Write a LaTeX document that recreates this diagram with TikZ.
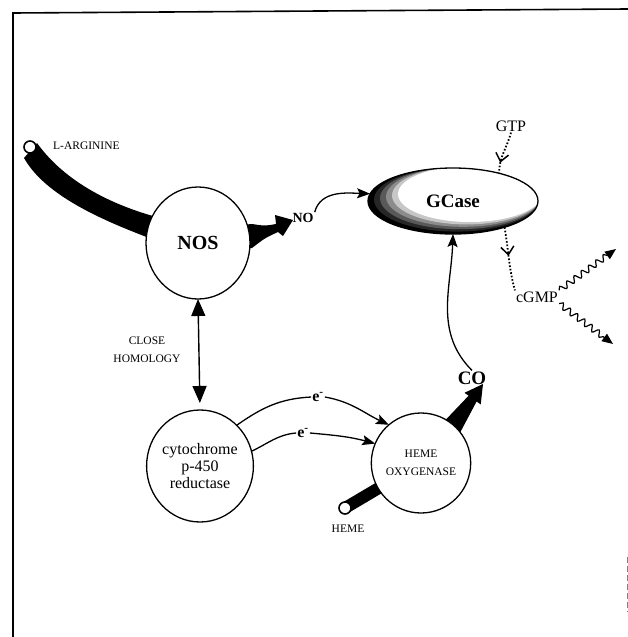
\documentclass[tikz,border=0pt]{standalone}
\usepackage{fontspec}
\setmainfont{Liberation Serif}
\usetikzlibrary{shapes.geometric,arrows.meta,backgrounds,decorations.pathmorphing,decorations.markings}

\begin{document}
\begin{tikzpicture}[x=1pt,y=1pt,
	enzyme/.style={ellipse, draw, line width=1.3pt, fill=white, inner sep=0pt, outer sep=0pt, align=center},
	substrate/.style={circle, draw, line width=1.6pt, fill=white, minimum size=12pt, inner sep=0pt},
	smallcaps/.style={font=\fontsize{11.5}{18}\selectfont, align=center, inner sep=1pt},
	molecule/.style={inner sep=1pt},
	thinarrow/.style={line width=1.3pt, -{Stealth[length=13pt,width=10pt,inset=2.5pt]}},
	dotarrow/.style={line width=1.8pt, dash pattern=on 1.6pt off 1.9pt, postaction={decorate},
		decoration={markings, mark=at position #1 with {\arrow{Straight Barb[length=8pt,width=13pt,line width=1.5pt]}}}},
	wavearrow/.style={line width=1.2pt, decorate,
		decoration={snake, amplitude=3pt, segment length=9pt, post length=10pt},
		-{Triangle[length=11pt,width=9pt]}}]
	\useasboundingbox (0,0) rectangle (628,-637);
	
	% Frame
	\draw[line width=1.6pt] (13,-637) -- (13,-13) -- (628,-9);
	\draw[gray, line width=0.8pt, dash pattern=on 6pt off 3pt] (627,-557) -- (627,-612);
	
	% GCase shading, dark on the left and below
	\begin{scope}
		\clip (453,-201) ellipse [x radius=85, y radius=33];
		\fill[black] (453,-201) ellipse [x radius=85, y radius=33];
		\foreach \k/\shade in {1/85,2/65,3/45,4/22,5/0}
			\fill[black!\shade] ({453+3.4*\k},{-201+1.4*\k}) ellipse [x radius={85-2.6*\k}, y radius={33-\k}];
	\end{scope}
	\node[ellipse, draw, line width=1.3pt, minimum width=170, minimum height=66, inner sep=0pt, outer sep=0pt,
		font=\bfseries\fontsize{19}{22}\selectfont] (gcase) at (453,-201) {GCase};
	
	% Enzymes
	\node[enzyme, minimum width=104, minimum height=112, font=\bfseries\fontsize{20}{22}\selectfont] (nos) at (198,-243) {NOS};
	\node[enzyme, minimum width=105, minimum height=112, font=\fontsize{16}{17}\selectfont] (cyt) at (200,-466) {cytochrome\\p-450\\reductase};
	\node[enzyme, minimum width=96, minimum height=100, font=\fontsize{11.5}{18}\selectfont] (ho) at (421,-463) {HEME\\OXYGENASE};
	
	% Substrates and products
	\node[substrate] (argdot) at (30,-147) {};
	\node[smallcaps, anchor=west] (larg) at (52,-146) {L-ARGININE};
	\node[substrate] (hemedot) at (345,-508) {};
	\node[smallcaps] (heme) at (348,-529) {HEME};
	\node[molecule, font=\bfseries\fontsize{14}{16}\selectfont] (no) at (303,-218) {NO};
	\node[molecule, font=\bfseries\fontsize{19}{22}\selectfont] (co) at (472,-378) {CO};
	\node[molecule, font=\fontsize{16}{18}\selectfont] (gtp) at (511,-126) {GTP};
	\node[molecule, font=\fontsize{16}{18}\selectfont] (cgmp) at (537,-297) {cGMP};
	\node[smallcaps] (homology) at (147,-350) {CLOSE\\HOMOLOGY};
	
	% Electron labels
	\node[molecule, font=\bfseries\fontsize{16}{18}\selectfont] (eup) at (318,-397) {e\textsuperscript{-}};
	\node[molecule, font=\bfseries\fontsize{16}{18}\selectfont] (elow) at (303,-433) {e\textsuperscript{-}};
	
	% Thick substrate flows (behind the enzymes)
	\begin{scope}[on background layer]
		\fill (37,-143) .. controls (60,-175) and (100,-202) .. (160,-218)
			-- (160,-242) .. controls (100,-220) and (45,-195) .. (24,-158) -- cycle;
		\fill (240,-225) -- (252,-224) .. controls (265,-226) .. (276,-224) -- (275,-215) -- (293,-220)
			-- (283,-236) -- (278,-232) .. controls (265,-238) .. (252,-248) -- (240,-248) -- cycle;
		\fill (436,-430) -- (468.6,-395.7) -- (464.5,-392.8) -- (483,-384) -- (480.7,-404.4)
			-- (476.6,-401.5) -- (454,-444) -- cycle;
		\draw[line width=12pt] (hemedot.center) -- (ho.center);
	\end{scope}
	
	% Close homology
	\draw[line width=1.4pt, {Triangle[length=17pt,width=14pt]}-{Triangle[length=17pt,width=14pt]}, shorten >=7pt] (nos.south) -- (cyt.north);
	
	% Electron transfer
	\draw[line width=1.3pt] (cyt.48) to[out=35,in=183] (eup.west);
	\draw[thinarrow] (eup.east) to[out=-10,in=155] (ho.130);
	\draw[line width=1.3pt] (cyt.16) to[out=25,in=185] (elow.west);
	\draw[thinarrow] (elow.east) to[out=-5,in=165] (ho.157);
	
	% Activation of GCase
	\draw[thinarrow] (no.north east) to[out=75,in=178] (gcase.175);
	\draw[thinarrow] (co.north) to[out=135,in=-92] (gcase.-90);
	
	% GTP -> cGMP
	\draw[dotarrow=0.75] (gtp.south) to[out=-105,in=90] (gcase.31);
	\draw[dotarrow=0.45] (gcase.-27) to[out=-80,in=105] (cgmp.north west);
	
	% cGMP effects
	\coordinate (wavetop) at (616,-249);
	\coordinate (wavebot) at (613,-344);
	\draw[wavearrow] (cgmp.north east) -- (wavetop);
	\draw[wavearrow] (cgmp.south east) -- (wavebot);
\end{tikzpicture}
\end{document}
